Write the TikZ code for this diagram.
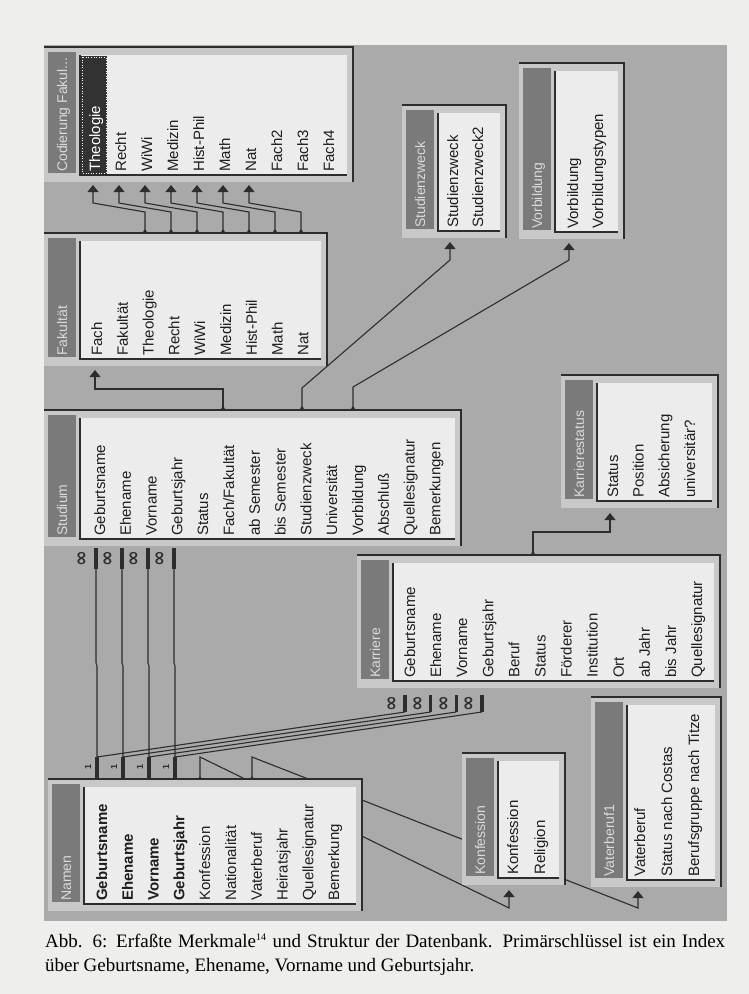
\documentclass[tikz,border=0pt]{standalone}
\usepackage{fontspec}
\setmainfont{Liberation Serif}
\newfontfamily\uifont{Liberation Sans}
\newfontfamily\symfont{DejaVu Sans}
\usetikzlibrary{arrows.meta}
\definecolor{pagebg}{RGB}{238,238,236}
\definecolor{canvas}{RGB}{170,170,170}
\definecolor{framecol}{RGB}{200,200,200}
\definecolor{titlecol}{RGB}{122,122,122}
\definecolor{listcol}{RGB}{236,236,236}
\definecolor{ink}{RGB}{45,45,45}
\definecolor{fieldink}{RGB}{30,30,30}
\definecolor{titletext}{RGB}{218,218,218}
\definecolor{hilite}{RGB}{50,50,50}
\tikzset{
  tabbox/.style={fill=framecol, inner sep=0pt, outer sep=0pt, anchor=north west},
  fieldtxt/.style={rotate=90, anchor=base west, inner sep=0pt, text=fieldink, font=\uifont\fontsize{15}{15}\selectfont},
  titletxt/.style={fieldtxt, text=titletext, font=\uifont\fontsize{14}{14}\selectfont},
  link/.style={draw=ink, line width=1.1pt, line join=miter},
  fklink/.style={link, {Circle[length=3.5pt]}-{Triangle[width=11pt,length=7pt]}},
  manysym/.style={rotate=90, inner sep=0pt, text=ink, font=\symfont\bfseries\fontsize{19}{19}\selectfont},
  onesym/.style={rotate=90, inner sep=0pt, text=ink, font=\uifont\bfseries\fontsize{9}{9}\selectfont},
}
% #1 name, #2 x1, #3 y1, #4 x2, #5 y2, #6 title, #7 first field centre, #8 spacing, #9 fields
\newcommand\dbtab[9]{%
  \pgfmathsetmacro\tabw{#4-#2}\pgfmathsetmacro\tabh{#5-#3}%
  \node[tabbox, minimum width=\tabw pt, minimum height=\tabh pt] (#1) at (#2,#3) {};
  \fill[titlecol] (#2+4,#3+5) rectangle (#2+32,#5-9);
  \fill[listcol] (#2+36,#3+8) rectangle (#4-6,#5-7);
  \draw[ink, line width=1.6pt] (#2+36,#3+8) -- (#2+36,#5-7) -- (#4-6,#5-7);
  \draw[ink, line width=2.2pt] (#2,#3) -- (#4,#3) -- (#4,#5);
  \node[titletxt] (#1-title) at (#2+23,#5-10) {#6};
  \foreach \f [count=\i from 0] in {#9} {\node[fieldtxt] (#1-\i) at ({#7+5+\i*#8},#5-10) {\f};}
}
\begin{document}
\begin{tikzpicture}[x=1pt,y=-1pt]
\useasboundingbox (0,0) rectangle (749,994);
\fill[pagebg] (0,0) rectangle (749,994);
\node[fill=canvas, inner sep=0pt, outer sep=0pt, anchor=north west, minimum width=683pt, minimum height=876pt] (canvas) at (44,45) {};

% links that run behind the tables
\coordinate (nmK0) at (200,780); \coordinate (nmK1) at (200,757);
\coordinate (kfA0) at (509,908); \coordinate (kfA1) at (509,890);
\draw[fklink] (nmK0) -- (nmK1) -- (kfA0) -- (kfA1);
\coordinate (nmV0) at (252,780); \coordinate (nmV1) at (252,757);
\coordinate (vtA0) at (638,908); \coordinate (vtA1) at (638,891);
\draw[fklink] (nmV0) -- (nmV1) -- (vtA0) -- (vtA1);

% tables
\dbtab{cf}{44}{47}{353}{182}{Codierung Fakul...}{121}{26}{Recht,WiWi,Medizin,Hist-Phil,Math,Nat,Fach2,Fach3,Fach4}
\fill[hilite] (81,56) rectangle (107,174);
\draw[white, dotted, line width=0.6pt] (82,57) rectangle (106,173);
\node[fieldtxt, text=white] (cf-theo) at (100,172) {Theologie};

\dbtab{fk}{44}{233}{327}{366}{Fakultät}{97}{25.8}{Fach,Fakultät,Theologie,Recht,WiWi,Medizin,Hist-Phil,Math,Nat}
\dbtab{sz}{402}{105}{506}{238}{Studienzweck}{453}{25}{Studienzweck,Studienzweck2}
\dbtab{vb}{519}{63}{624}{239}{Vorbildung}{573}{25}{Vorbildung,Vorbildungstypen}
\dbtab{st}{44}{410}{461}{546}{Studium}{100}{25.8}{Geburtsname,Ehename,Vorname,Geburtsjahr,Status,Fach/Fakultät,ab Semester,bis Semester,Studienzweck,Universität,Vorbildung,Abschluß,Quellesignatur,Bemerkungen}
\dbtab{ks}{561}{375}{718}{508}{Karrierestatus}{613}{25.7}{Status,Position,Absicherung,universitär?}
\dbtab{kr}{357}{555}{720}{688}{Karriere}{410}{26.1}{Geburtsname,Ehename,Vorname,Geburtsjahr,Beruf,Status,Förderer,Institution,Ort,ab Jahr,bis Jahr,Quellesignatur}
\dbtab{nm}{48}{779}{362}{911}{Namen}{102}{25.8}{\textbf{Geburtsname},\textbf{Ehename},\textbf{Vorname},\textbf{Geburtsjahr},Konfession,Nationalität,Vaterberuf,Heiratsjahr,Quellesignatur,Bemerkung}
\dbtab{kf}{462}{753}{565}{885}{Konfession}{513}{27}{Konfession,Religion}
\dbtab{vt}{591}{697}{721}{887}{Vaterberuf1}{640}{27}{Vaterberuf,Status nach Costas,Berufsgruppe nach Titze}

% Fakultaet -> Codierung
\foreach \k in {0,...,6} {
  \coordinate (fkS\k) at ({145+26*\k},233);
  \coordinate (cfT\k) at ({93+26*\k},185);
  \draw[fklink] (fkS\k) -- ({145+26*\k},212) -- ({93+26*\k},203) -- (cfT\k);
}
% Studium -> Fakultaet, Studienzweck, Vorbildung
\coordinate (stF) at (223,410); \coordinate (fkA) at (95,370);
\draw[fklink] (stF) -- (223,389) -- (95,389) -- (fkA);
\coordinate (stZ) at (302,410); \coordinate (szA) at (450,242);
\draw[fklink] (stZ) -- (302,388) -- (450,260) -- (szA);
\coordinate (stV) at (353,410); \coordinate (vbA) at (569,243);
\draw[fklink] (stV) -- (353,387) -- (569,260) -- (vbA);
% Karriere -> Karrierestatus
\coordinate (krS) at (533,555); \coordinate (ksA) at (610,513);
\draw[fklink] (krS) -- (533,532) -- (610,532) -- (ksA);

% one-to-many relations
\foreach \k in {0,...,3} {
  \coordinate (stM\k) at ({96+26*\k},569);
  \coordinate (nmO\k) at ({97+26*\k},757);
  \coordinate (krM\k) at ({405+25.6*\k},712);
  \draw[link] (stM\k) -- ({96+26*\k},663) -- ({97+26*\k},666) -- (nmO\k);
  \draw[link] (nmO\k) -- (krM\k);
  \fill[ink] ({94.3+26*\k},548) rectangle ({97.7+26*\k},569);
  \node[manysym] (stInf\k) at ({83+26*\k},559) {∞};
  \fill[ink] ({95.3+26*\k},757) rectangle ({98.7+26*\k},779);
  \node[onesym] (nmOne\k) at ({88+26*\k},767) {1};
  \fill[ink] ({403.3+25.6*\k},695) rectangle ({406.7+25.6*\k},712);
  \node[manysym] (krInf\k) at ({393+25.6*\k},704) {∞};
}

% caption
\node[anchor=base west, inner sep=0pt, font=\fontsize{19}{24}\selectfont] (cap1) at (45,947)
  {\makebox[680pt][s]{Abb. 6: Erfaßte Merkmale\textsuperscript{\fontsize{10}{10}\selectfont 14} und Struktur der Datenbank. Primärschlüssel ist ein Index}};
\node[anchor=base west, inner sep=0pt, font=\fontsize{19}{24}\selectfont] (cap2) at (45,971)
  {über Geburtsname, Ehename, Vorname und Geburtsjahr.};
\end{tikzpicture}
\end{document}
